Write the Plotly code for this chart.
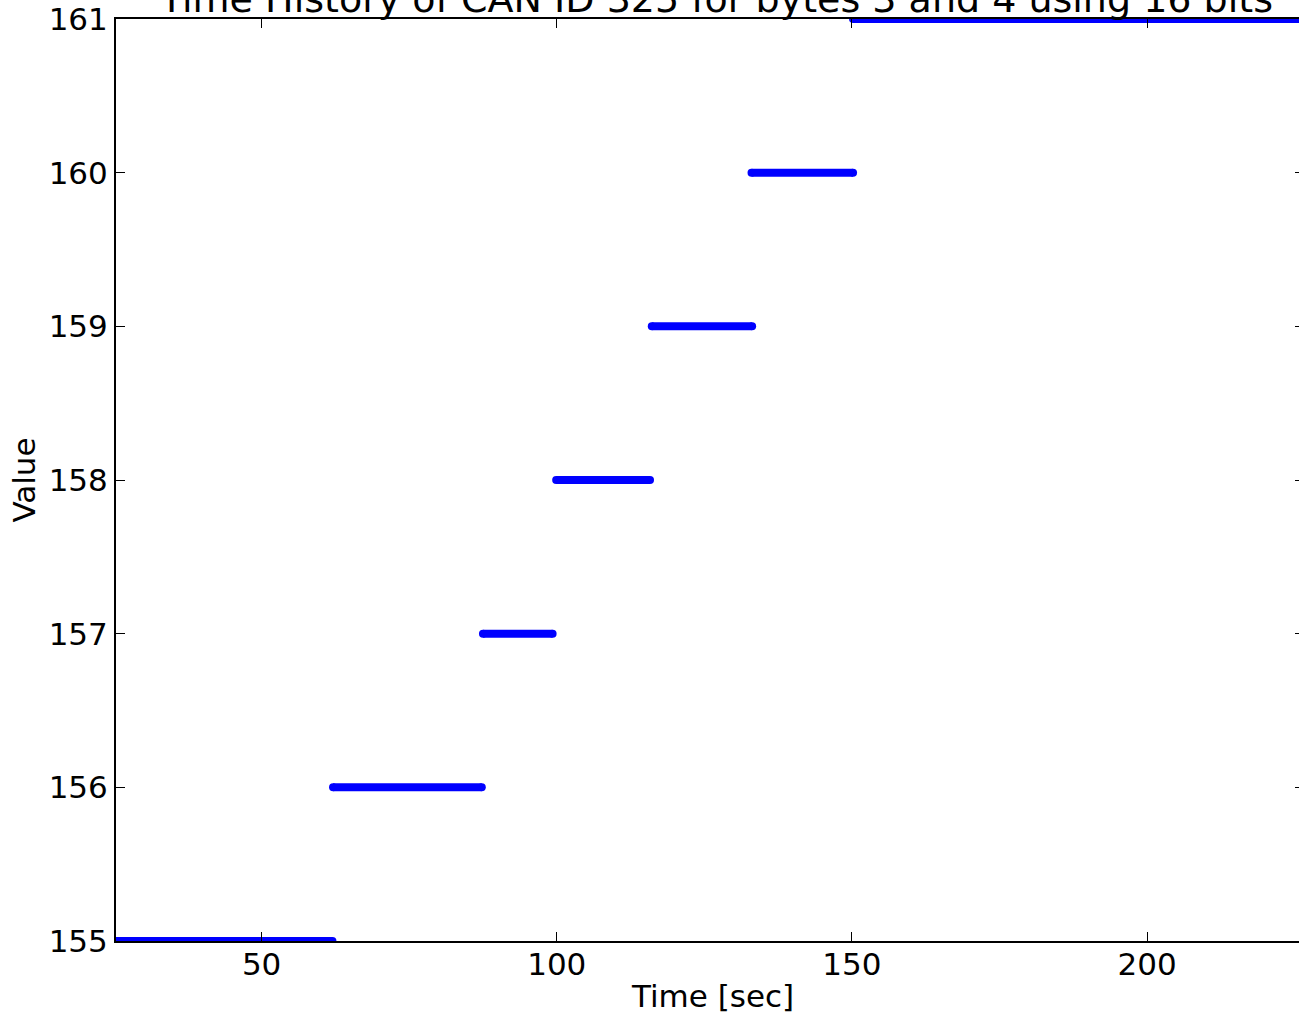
import plotly.graph_objects as go

# Data
values = [155, 156, 157, 158, 159, 160, 161]
seg_start = [25.3, 62.1, 87.5, 99.9, 116.1, 133.0, 150.2]
seg_end = [62.0, 87.3, 99.3, 115.8, 133.1, 150.2, 229.0]
x_ticks = [50, 100, 150, 200]
y_ticks = [155, 156, 157, 158, 159, 160, 161]

FONT = "DejaVu Sans"
BLUE = "#0000ff"

fig = go.Figure()
for v, s, e in zip(values, seg_start, seg_end):
    fig.add_trace(go.Scatter(
        x=[s, e], y=[v, v], mode="lines+markers",
        line=dict(color=BLUE, width=8),
        marker=dict(color=BLUE, size=8, line=dict(width=0)),
        showlegend=False, hoverinfo="skip",
    ))
# helper trace for right-side tick marks
fig.add_trace(go.Scatter(x=[None], y=[None], yaxis="y2", showlegend=False))

fig.update_layout(
    width=1299, height=1020,
    margin=dict(l=116, r=0, t=19, b=79),
    paper_bgcolor="white", plot_bgcolor="white",
    font=dict(family=FONT, color="black", size=31),
    xaxis=dict(
        range=[25.33, 225.75], tickvals=x_ticks,
        showgrid=False, zeroline=False,
        showline=True, linecolor="black", linewidth=2, mirror="ticks",
        ticks="inside", ticklen=9, tickwidth=1, tickcolor="black",
        tickfont=dict(size=31, family=FONT),
        ticklabelstandoff=-5,
    ),
    yaxis=dict(
        range=[155, 161], tickvals=y_ticks,
        showgrid=False, zeroline=False,
        showline=True, linecolor="black", linewidth=2, mirror=False,
        ticks="inside", ticklen=9, tickwidth=1, tickcolor="black",
        tickfont=dict(size=31, family=FONT),
        title=dict(text="Value", font=dict(size=31, family=FONT), standoff=4),
    ),
    yaxis2=dict(
        range=[155, 161], tickvals=y_ticks, overlaying="y", side="right",
        showgrid=False, zeroline=False, showline=False, showticklabels=False,
        ticks="inside", ticklen=4, tickwidth=1, tickcolor="black",
    ),
    annotations=[
        dict(text="Time History of CAN ID 325 for bytes 3 and 4 using 16 bits",
             xref="paper", yref="paper", x=0.507, y=1.0217,
             xanchor="center", yanchor="middle", showarrow=False,
             font=dict(size=38, family=FONT, color="black")),
        dict(text="Time [sec]", xref="paper", yref="paper",
             x=(712.5 - 116) / 1183, y=-(996 - 941) / 922,
             xanchor="center", yanchor="middle", showarrow=False,
             font=dict(size=31, family=FONT, color="black")),
    ],
)

fig.write_html("out.html", config={"displayModeBar": False},
               post_script="document.body.style.margin='0';")
